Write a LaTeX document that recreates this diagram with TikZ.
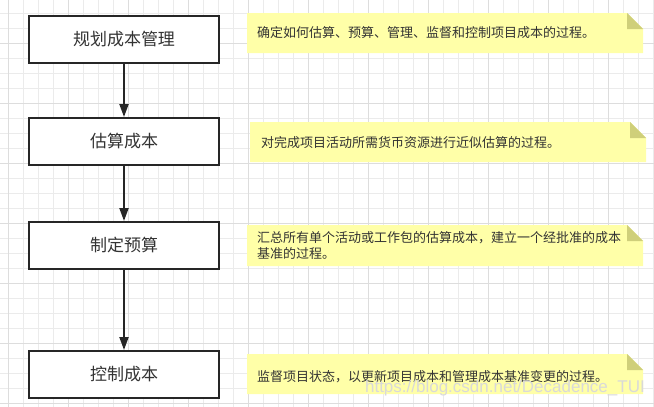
\documentclass[tikz,border=0pt]{standalone}
\usepackage{fontspec}
\setmainfont{Noto Sans CJK SC}
\newfontfamily\wmfont{Liberation Sans}
\usetikzlibrary{arrows.meta}
\definecolor{gridminor}{HTML}{EBEBEB}
\definecolor{gridmajor}{HTML}{DDDDDD}
\definecolor{boxline}{HTML}{262626}
\definecolor{txt}{HTML}{333333}
\definecolor{notefill}{HTML}{FFFFA8}
\definecolor{notefold}{HTML}{CFCF7A}
\tikzset{
  minorline/.style={draw=gridminor, line width=0.8pt},
  majorline/.style={draw=gridmajor, line width=0.9pt},
  stepbox/.style={draw=boxline, line width=2pt, fill=white, minimum width=190pt, minimum height=47pt, inner sep=0pt, text=txt, font=\fontsize{17}{20}\selectfont},
  flowarrow/.style={draw=boxline, line width=2pt, -{Triangle[length=13pt,width=9pt]}},
  notetext/.style={anchor=west, inner sep=0pt, text=txt, font=\fontsize{13}{16}\selectfont, align=left},
}
\newcommand\yellownote[4]{%
  \fill[notefill] (#1,#2) -- (#3-16,#2) -- (#3,#2+16) -- (#3,#4) -- (#1,#4) -- cycle;
  \fill[notefold] (#3-16,#2) -- (#3-16,#2+16) -- (#3,#2+16) -- cycle;
}
\begin{document}
\begin{tikzpicture}[x=1pt,y=-1pt]
\useasboundingbox (0,0) rectangle (654,407);
\fill[white] (0,0) rectangle (654,407);
% grid
\foreach \i in {0,...,43} { \draw[minorline] (8+15*\i,0) -- (8+15*\i,407); }
\foreach \i in {0,...,26} { \draw[minorline] (0,13+15*\i) -- (654,13+15*\i); }
\foreach \i in {0,...,10} { \draw[majorline] (8+60*\i,0) -- (8+60*\i,407); }
\foreach \i in {0,...,6} { \draw[majorline] (0,43+60*\i) -- (654,43+60*\i); }
% boxes
\node[stepbox] (b1) at (124,39.5) {规划成本管理};
\node[stepbox] (b2) at (124,141.5) {估算成本};
\node[stepbox] (b3) at (124,245.5) {制定预算};
\node[stepbox] (b4) at (124,374.5) {控制成本};
\draw[flowarrow] (b1) -- (b2);
\draw[flowarrow] (b2) -- (b3);
\draw[flowarrow] (b3) -- (b4);
% notes
\yellownote{247}{13}{643}{53}
\yellownote{250}{122}{646}{162}
\yellownote{247}{225}{643}{266}
\yellownote{247}{354}{643}{394}
\node[notetext] (n1) at (257,33) {确定如何估算、预算、管理、监督和控制项目成本的过程。};
\node[notetext] (n2) at (261,143) {对完成项目活动所需货币资源进行近似估算的过程。};
\node[notetext] (n3) at (257,246) {汇总所有单个活动或工作包的估算成本，建立一个经批准的成本\\基准的过程。};
\node[notetext] (n4) at (257,377) {监督项目状态，以更新项目成本和管理成本基准变更的过程。};
\node[anchor=east, inner sep=0pt, text=gray!30, font=\wmfont\fontsize{17}{20}\selectfont] (wm) at (645,388) {https://blog.csdn.net/Decadence\_TUI};
\end{tikzpicture}
\end{document}
